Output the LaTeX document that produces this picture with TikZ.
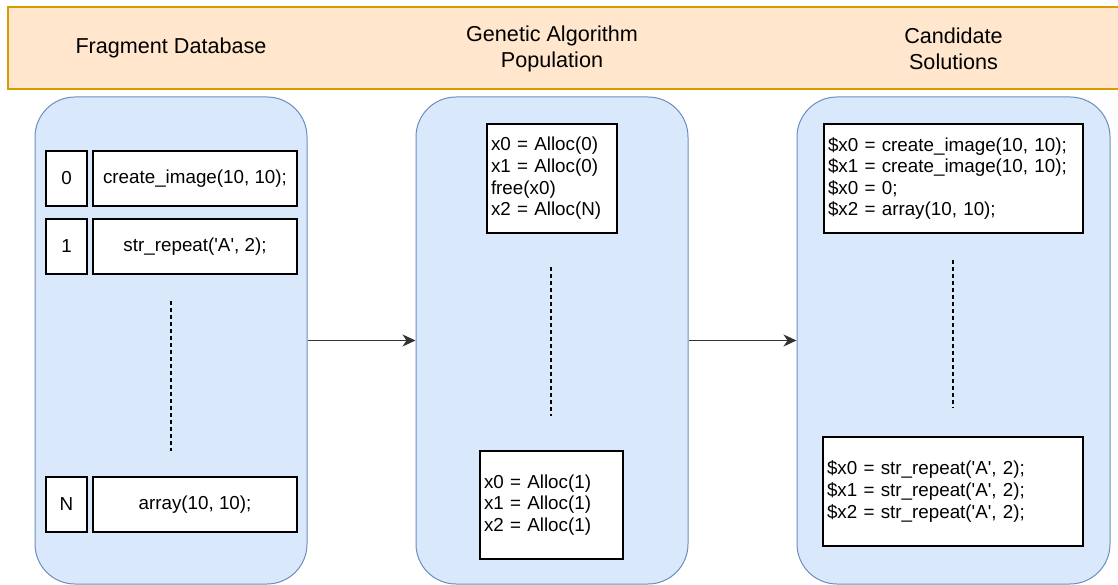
\documentclass[tikz,border=0pt]{standalone}
\usepackage{fontspec}
\setmainfont{Liberation Sans}
\usepackage{tikz}
\usetikzlibrary{arrows.meta}

\definecolor{headfill}{HTML}{FFE6CC}
\definecolor{headline}{HTML}{D79B00}
\definecolor{panelfill}{HTML}{DAE8FC}
\definecolor{panelline}{HTML}{6C8EBF}
\newcommand{\hdrfont}{\fontsize{21.6}{26}\selectfont}
\newcommand{\cellfont}{\fontsize{18.8}{21.6}\selectfont}
\newcommand{\q}{\textquotesingle}

\begin{document}
\begin{tikzpicture}[x=1pt,y=-1pt,
        panel/.style={draw=panelline,fill=panelfill,line width=1pt,rounded corners=40pt,
            minimum width=#1,minimum height=487pt,inner sep=0pt},
        cell/.style={draw,fill=white,line width=1.3pt,minimum width=#1,minimum height=55pt,
            inner sep=0pt,font=\cellfont},
        code/.style={draw,fill=white,line width=1.3pt,text width=#1,align=left,
            inner xsep=4pt,inner ysep=0pt,minimum height=109pt,font=\cellfont},
        title/.style={align=center,font=\hdrfont},
        flow/.style={-{Stealth[length=13pt,width=12pt,inset=4pt]},line width=1.4pt,black!80},
        dots/.style={dash pattern=on 4pt off 3pt,line width=1.3pt}]
    \useasboundingbox (0,0) rectangle (1118,585);

    % header band
    \draw[fill=headfill,draw=headline,line width=1.3pt] (8,7) rectangle (1125,89);
    \node[title] (t-frag) at (171,48) {Fragment Database};
    \node[title] (t-pop) at (552,49) {Genetic Algorithm\\Population};
    \node[title] (t-cand) at (953.5,49) {Candidate\\Solutions};

    % panels
    \node[panel=272pt] (frag) at (171,340.5) {};
    \node[panel=272pt] (pop) at (552,340.5) {};
    \node[panel=313pt] (cand) at (953.5,340.5) {};

    % fragment database
    \node[cell=41pt] (i0) at (66.5,178.5) {0};
    \node[cell=204pt] (f0) at (195,178.5) {create\_image(10, 10);};
    \node[cell=41pt] (i1) at (66.5,246.5) {1};
    \node[cell=204pt] (f1) at (195,246.5) {str\_repeat(\q A\q, 2);};
    \node[cell=41pt] (iN) at (66.5,504.5) {N};
    \node[cell=204pt] (fN) at (195,504.5) {array(10, 10);};
    \coordinate (d1a) at (171,301);
    \coordinate (d1b) at (171,451);
    \draw[dots] (d1a) -- (d1b);

    % population
    \node[code=122pt] (p0) at (552,178.5) {x0 = Alloc(0)\\x1 = Alloc(0)\\free(x0)\\x2 = Alloc(N)};
    \node[code=135pt,minimum height=108pt] (p1) at (551.5,505) {x0 = Alloc(1)\\x1 = Alloc(1)\\x2 = Alloc(1)};
    \coordinate (d2a) at (551,267);
    \coordinate (d2b) at (551,416);
    \draw[dots] (d2a) -- (d2b);

    % candidates
    \node[code=251pt] (c0) at (953.5,178.5) {\$x0 = create\_image(10, 10);\\\$x1 = create\_image(10, 10);\\\$x0 = 0;\\\$x2 = array(10, 10);};
    \node[code=252pt] (c1) at (953,491.5) {\$x0 = str\_repeat(\q A\q, 2);\\\$x1 = str\_repeat(\q A\q, 2);\\\$x2 = str\_repeat(\q A\q, 2);};
    \coordinate (d3a) at (953,260);
    \coordinate (d3b) at (953,408);
    \draw[dots] (d3a) -- (d3b);

    % flow between panels
    \draw[flow] (frag.east) -- (pop.west);
    \draw[flow] (pop.east) -- (cand.west);
\end{tikzpicture}
\end{document}
